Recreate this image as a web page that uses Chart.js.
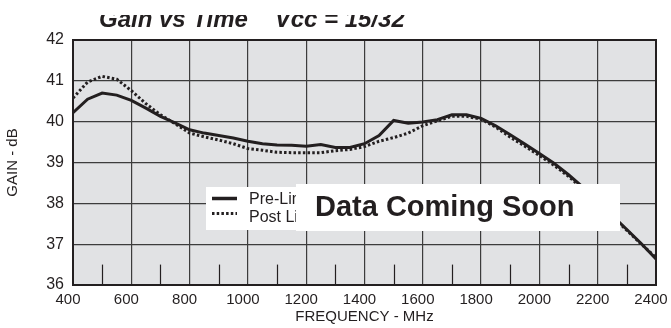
<!DOCTYPE html>
<html>
<head>
<meta charset="utf-8">
<script src="https://cdn.jsdelivr.net/npm/chart.js@4.4.1/dist/chart.umd.min.js"></script>
<style>
  html, body { margin: 0; padding: 0; background: #fff; }
  #wrap { width: 671px; height: 328px; }
</style>
</head>
<body>
<div id="wrap"><canvas id="gain" width="671" height="328"></canvas></div>
<script>
// frequency in MHz
const freqs = [400, 450, 500, 550, 600, 650, 700, 750, 800, 850, 900, 950, 1000,
  1050, 1100, 1150, 1200, 1250, 1300, 1350, 1400, 1450, 1500, 1550, 1600, 1650,
  1700, 1750, 1800, 1850, 1900, 1950, 2000, 2050, 2100, 2150, 2200, 2250, 2300,
  2350, 2400];

// gain in dB
const preLimiter = [40.22, 40.55, 40.70, 40.65, 40.52, 40.33, 40.13, 39.97, 39.80,
  39.72, 39.66, 39.60, 39.52, 39.46, 39.43, 39.42, 39.40, 39.44, 39.37, 39.37,
  39.46, 39.66, 40.03, 39.96, 39.99, 40.05, 40.17, 40.17, 40.08, 39.90, 39.68,
  39.45, 39.22, 38.98, 38.70, 38.39, 38.05, 37.70, 37.36, 37.01, 36.64];

const postLimiter = [40.58, 40.97, 41.11, 41.04, 40.76, 40.44, 40.17, 39.95, 39.72,
  39.63, 39.55, 39.46, 39.34, 39.30, 39.25, 39.24, 39.24, 39.24, 39.29, 39.32,
  39.39, 39.52, 39.61, 39.72, 39.90, 40.02, 40.13, 40.13, 40.06, 39.87, 39.62,
  39.40, 39.17, 38.93, 38.66, 38.35, 38.02, 37.67, 37.34, 37.00, 36.67];

const seriesNames = ["Pre-Limiter", "Post Limiter"];
const minorTicks = [500, 700, 900, 1100, 1300, 1500, 1700, 1900, 2100, 2300];

const ink = "#231f20";
const font = "'Liberation Sans', Arial, sans-serif";

const plotExtras = {
  id: "plotExtras",
  beforeDraw(chart) {
    const { ctx, chartArea: a } = chart;
    ctx.save();
    ctx.fillStyle = "#e1e2e4";
    ctx.fillRect(a.left, a.top, a.right - a.left, a.bottom - a.top);
    ctx.restore();
  },
  beforeDatasetsDraw(chart) {
    const { ctx, chartArea: a, scales } = chart;
    ctx.save();
    // short ticks at the odd hundreds
    ctx.strokeStyle = ink;
    ctx.lineWidth = 1.2;
    const y0 = scales.y.getPixelForValue(36);
    const y1 = scales.y.getPixelForValue(36.5);
    minorTicks.forEach((f) => {
      const x = Math.round(scales.x.getPixelForValue(f)) + 0.5;
      ctx.beginPath();
      ctx.moveTo(x, y0);
      ctx.lineTo(x, y1);
      ctx.stroke();
    });
    ctx.lineWidth = 2;
    ctx.strokeRect(a.left, a.top, a.right - a.left, a.bottom - a.top);
    ctx.restore();
  },
  afterDraw(chart) {
    const { ctx } = chart;
    ctx.save();
    // title, top cut off as in the scan
    ctx.beginPath();
    ctx.rect(0, 15, 671, 40);
    ctx.clip();
    ctx.fillStyle = ink;
    ctx.font = "italic bold 24px " + font;
    ctx.fillText("Gain vs Time    Vcc = 15/32", 99, 27);
    ctx.restore();

    ctx.save();
    // legend
    ctx.fillStyle = "#fff";
    ctx.fillRect(206, 187, 100, 43);
    ctx.strokeStyle = ink;
    ctx.lineWidth = 3.5;
    ctx.beginPath();
    ctx.moveTo(212, 198.5);
    ctx.lineTo(237, 198.5);
    ctx.stroke();
    ctx.lineWidth = 3;
    ctx.setLineDash([2.5, 2.2]);
    ctx.beginPath();
    ctx.moveTo(212, 213.5);
    ctx.lineTo(237, 213.5);
    ctx.stroke();
    ctx.setLineDash([]);
    ctx.fillStyle = ink;
    ctx.font = "16px " + font;
    ctx.fillText(seriesNames[0], 249, 203.5);
    ctx.fillText(seriesNames[1], 249, 221.5);

    // placeholder banner
    ctx.fillStyle = "#fff";
    ctx.fillRect(296, 184, 324, 47);
    ctx.fillStyle = ink;
    ctx.font = "bold 29px " + font;
    ctx.fillText("Data Coming Soon", 315, 216);
    ctx.restore();
  },
};

const toPoints = (vals) => vals.map((g, i) => ({ x: freqs[i], y: g }));

new Chart(document.getElementById("gain"), {
  type: "line",
  data: {
    datasets: [
      {
        label: seriesNames[0],
        data: toPoints(preLimiter),
        borderColor: ink,
        borderWidth: 3,
        pointRadius: 0,
        tension: 0,
      },
      {
        label: seriesNames[1],
        data: toPoints(postLimiter),
        borderColor: ink,
        borderWidth: 3,
        borderDash: [2.5, 2.2],
        pointRadius: 0,
        tension: 0,
      },
    ],
  },
  options: {
    responsive: false,
    animation: false,
    devicePixelRatio: 1,
    layout: { padding: { left: 0, top: 40, right: 15, bottom: 0 } },
    plugins: {
      legend: { display: false },
      tooltip: { enabled: false },
    },
    scales: {
      x: {
        type: "linear",
        min: 400,
        max: 2400,
        ticks: {
          stepSize: 200,
          color: ink,
          padding: 6,
          labelOffset: -5,
          font: { family: font, size: 15 },
          maxRotation: 0,
          autoSkip: false,
          callback: (v) => String(v),
        },
        grid: { color: "#3c3c3c", lineWidth: 1.2, drawTicks: false },
        border: { display: false },
        title: {
          display: true,
          text: "FREQUENCY - MHz",
          color: ink,
          padding: { top: 0, bottom: 2 },
          font: { family: font, size: 15 },
        },
        afterFit(scale) {
          scale.height = 43;
          scale.paddingLeft = 0;
          scale.paddingRight = 0;
        },
      },
      y: {
        min: 36,
        max: 42,
        ticks: {
          stepSize: 1,
          color: ink,
          padding: 9,
          font: { family: font, size: 16 },
        },
        grid: { color: "#3c3c3c", lineWidth: 1.2, drawTicks: false },
        border: { display: false },
        title: {
          display: true,
          text: "GAIN - dB",
          color: ink,
          padding: { top: 4, bottom: 0 },
          font: { family: font, size: 15 },
        },
        afterFit(scale) {
          scale.width = 73;
        },
      },
    },
  },
  plugins: [plotExtras],
});
</script>
</body>
</html>
